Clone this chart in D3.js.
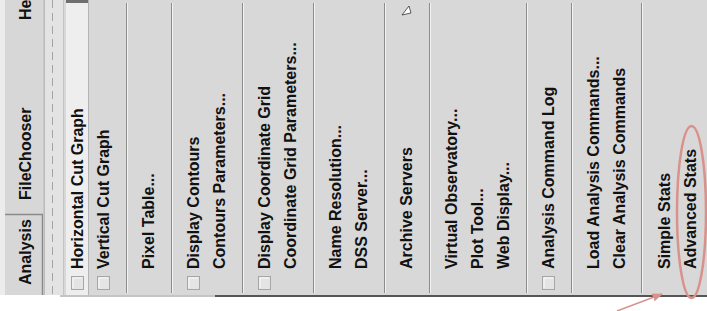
<!DOCTYPE html>
<html>
<head>
<meta charset="utf-8">
<script src="https://cdn.jsdelivr.net/npm/d3@7"></script>
<style>
  body { margin: 0; background: #fff; }
  svg { display: block; }
  text { font-family: "Liberation Sans", Arial, Helvetica, sans-serif; font-weight: bold; font-size: 16px; fill: #111; }
</style>
</head>
<body>
<div id="menu"></div>
<script>
// menu entries, in order, with their separator group
const itemLabels = [
  "Horizontal Cut Graph", "Vertical Cut Graph",
  "Pixel Table...",
  "Display Contours", "Contours Parameters...",
  "Display Coordinate Grid", "Coordinate Grid Parameters...",
  "Name Resolution...", "DSS Server...",
  "Archive Servers",
  "Virtual Observatory...", "Plot Tool...", "Web Display...",
  "Analysis Command Log",
  "Load Analysis Commands...", "Clear Analysis Commands",
  "Simple Stats", "Advanced Stats"
];
const itemGroups = [0, 0, 1, 2, 2, 3, 3, 4, 4, 5, 6, 6, 6, 7, 8, 8, 9, 9];
const itemCheckbox = [true, true, false, true, false, true, false, false, false,
  false, false, false, false, true, false, false, false, false];
const selectedItem = "Horizontal Cut Graph";
const circledItem = "Advanced Stats";

const tabLabels = ["Analysis", "FileChooser", "Help"];
const selectedTab = "Analysis";

const width = 707;
const height = 311;
const menuBottom = 295;
const textStart = 269;

const svg = d3.select("#menu").append("svg")
  .attr("width", width)
  .attr("height", height);

// layout: every item takes one step, every new group adds a gap
const step = 26, groupGap = 19;
const items = itemLabels.map((label, i) => ({
  label, group: itemGroups[i], check: itemCheckbox[i], slot: i * step + itemGroups[i] * groupGap
}));
const x = d3.scaleLinear().domain([0, step]).range([77, 77 + step]);

// backgrounds
svg.append("rect").attr("x", 0).attr("y", 0).attr("width", 5).attr("height", menuBottom).attr("fill", "#ececec");
svg.append("rect").attr("x", 5).attr("y", 0).attr("width", 39).attr("height", menuBottom).attr("fill", "#d7d7d7");
svg.append("rect").attr("x", 44).attr("y", 0).attr("width", 19).attr("height", menuBottom).attr("fill", "#e3e3e3");
svg.append("rect").attr("x", 63).attr("y", 0).attr("width", width - 63).attr("height", menuBottom).attr("fill", "#d8d8d8");

// tear-off strip
svg.append("line").attr("x1", 44.5).attr("x2", 44.5).attr("y1", 0).attr("y2", menuBottom).attr("stroke", "#bcbcbc");
svg.append("line").attr("x1", 63.5).attr("x2", 63.5).attr("y1", 0).attr("y2", menuBottom).attr("stroke", "#c4c4c4");
svg.append("line").attr("x1", 52.5).attr("x2", 52.5).attr("y1", 0).attr("y2", menuBottom)
  .attr("stroke", "#a4a4a4").attr("stroke-dasharray", "8 5");

// tabs
const tabY = d3.scaleOrdinal().domain(tabLabels).range([285, 200, 20]);
svg.append("path")
  .attr("d", "M5,214.5 H42.5 V" + menuBottom)
  .attr("fill", "none").attr("stroke", "#8a8a8a").attr("stroke-width", 1.5);
svg.append("line").attr("x1", 43.5).attr("x2", 43.5).attr("y1", 0).attr("y2", 214).attr("stroke", "#c8c8c8");
svg.selectAll("text.tab")
  .data(tabLabels)
  .join("text")
  .attr("class", "tab")
  .attr("transform", d => `translate(25,${tabY(d)}) rotate(-90)`)
  .attr("dy", "0.36em")
  .text(d => d);

// selected item
const sel = items.find(d => d.label === selectedItem);
svg.append("rect").attr("x", x(sel.slot) - 11).attr("y", 0).attr("width", 22).attr("height", menuBottom).attr("fill", "#eeeeee");
svg.append("rect").attr("x", x(sel.slot) - 11).attr("y", 0).attr("width", 22).attr("height", 3).attr("fill", "#6e6e6e");
svg.append("line").attr("x1", x(sel.slot) + 11.5).attr("x2", x(sel.slot) + 11.5).attr("y1", 0).attr("y2", menuBottom).attr("stroke", "#b4b4b4");

// separators
const firsts = items.filter((d, i) => i > 0 && d.group !== items[i - 1].group);
const sep = svg.append("g").selectAll("g").data(firsts).join("g")
  .attr("transform", d => `translate(${Math.round(x(d.slot) - 22.5) + 0.5},0)`);
sep.append("line").attr("y1", 3).attr("y2", menuBottom - 2).attr("stroke", "#8c8c8c");
sep.append("line").attr("x1", 1).attr("x2", 1).attr("y1", 3).attr("y2", menuBottom - 2).attr("stroke", "#f2f2f2");

// checkboxes
const boxes = svg.append("g").selectAll("g").data(items.filter(d => d.check)).join("g")
  .attr("transform", d => `translate(${Math.round(x(d.slot) - 6) + 0.5},276.5)`);
boxes.append("rect").attr("width", 12).attr("height", 13).attr("fill", "#e4e4e4").attr("stroke", "#a6a6a6");
boxes.append("path").attr("d", "M1.5,11.5 V1.5 H10.5").attr("fill", "none").attr("stroke", "#fafafa");

// item labels
svg.append("g").selectAll("text").data(items).join("text")
  .attr("transform", d => `translate(${x(d.slot)},${textStart}) rotate(-90)`)
  .attr("dy", "0.36em")
  .text(d => d.label);

// menu bottom edge
svg.append("line").attr("x1", 60).attr("x2", 215).attr("y1", 296).attr("y2", 296).attr("stroke", "#b0b0b0").attr("stroke-width", 1.5);
svg.append("line").attr("x1", 215).attr("x2", width).attr("y1", 296).attr("y2", 296).attr("stroke", "#555").attr("stroke-width", 2);

// mouse pointer near Archive Servers
const arch = items.find(d => d.label === "Archive Servers");
svg.append("path")
  .attr("transform", `translate(${x(arch.slot)},10)`)
  .attr("d", "M-4,5 L3,-4 L5,3 Z")
  .attr("fill", "#fff").attr("stroke", "#333").attr("stroke-width", 0.8);

// annotation
const circ = items.find(d => d.label === circledItem);
svg.append("ellipse")
  .attr("cx", x(circ.slot) + 1.5).attr("cy", 212).attr("rx", 14.5).attr("ry", 86)
  .attr("fill", "none").attr("stroke", "#d9928b").attr("stroke-width", 2.5);

svg.append("defs").append("marker")
  .attr("id", "head").attr("viewBox", "0 0 10 10").attr("refX", 9).attr("refY", 5)
  .attr("markerWidth", 7).attr("markerHeight", 7).attr("orient", "auto")
  .append("path").attr("d", "M0,1 L10,5 L0,9 Z").attr("fill", "#d9928b");
svg.append("line")
  .attr("x1", 617).attr("y1", 311).attr("x2", 662).attr("y2", 294)
  .attr("stroke", "#d9928b").attr("stroke-width", 1.5).attr("marker-end", "url(#head)");
</script>
</body>
</html>
